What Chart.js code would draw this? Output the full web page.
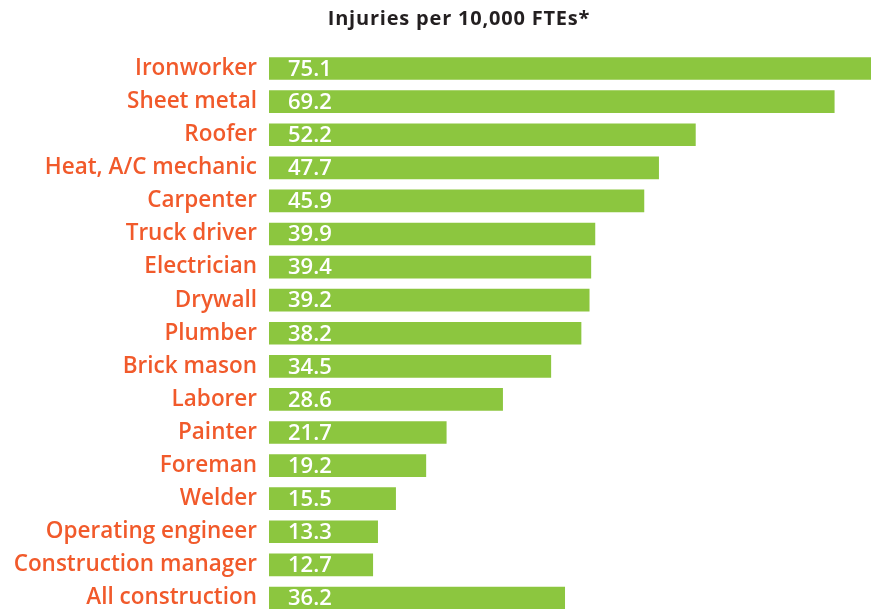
<!DOCTYPE html>
<html>
<head>
<meta charset="utf-8">
<script src="https://cdn.jsdelivr.net/npm/chart.js@4/dist/chart.umd.min.js"></script>
<style>
  html, body { margin: 0; padding: 0; background: #fff; overflow: hidden; }
  #wrap { position: relative; width: 871px; height: 640px; }
</style>
</head>
<body>
<div id="wrap"><canvas id="chartInjuries"></canvas></div>
<script>
// Data
const trades = [
    'Ironworker', 'Sheet metal', 'Roofer', 'Heat, A/C mechanic', 'Carpenter',
    'Truck driver', 'Electrician', 'Drywall', 'Plumber', 'Brick mason',
    'Laborer', 'Painter', 'Foreman', 'Welder', 'Operating engineer',
    'Construction manager', 'All construction'
];
const injuryRates = [75.1, 69.2, 52.2, 47.7, 45.9, 39.9, 39.4, 39.2, 38.2, 34.5,
    28.6, 21.7, 19.2, 15.5, 13.3, 12.7, 36.2];
const chartTitle = 'Injuries per 10,000 FTEs*';

const GREEN = '#8CC63F';
const ORANGE = '#F15A2B';
const FONT = '"Open Sans"';

/**
 * Title drawn by hand so it can sit off-centre like the original
 */
const titlePlugin = {
    id: 'customTitle',
    afterDraw(chart) {
        const ctx = chart.ctx;
        ctx.save();
        ctx.fillStyle = '#231F20';
        ctx.font = 'bold 20px ' + FONT;
        ctx.letterSpacing = '0.8px';
        ctx.textAlign = 'center';
        ctx.textBaseline = 'middle';
        ctx.fillText(chartTitle, 459, 19);
        ctx.restore();
    }
};

/**
 * White value labels inside the bars
 */
const valueLabels = {
    id: 'valueLabels',
    afterDatasetsDraw(chart) {
        const ctx = chart.ctx;
        const meta = chart.getDatasetMeta(0);
        const x0 = chart.scales.x.getPixelForValue(0);
        ctx.save();
        ctx.fillStyle = '#ffffff';
        ctx.font = '600 22px ' + FONT;
        ctx.textAlign = 'left';
        ctx.textBaseline = 'middle';
        meta.data.forEach((bar, i) => {
            ctx.fillText(injuryRates[i].toFixed(1), x0 + 19, bar.y + 1);
        });
        ctx.restore();
    }
};

new Chart(document.getElementById('chartInjuries'), {
    type: 'bar',
    data: {
        labels: trades,
        datasets: [{
            data: injuryRates,
            backgroundColor: GREEN,
            barThickness: 22,
            borderWidth: 0
        }]
    },
    options: {
        indexAxis: 'y',
        responsive: true,
        maintainAspectRatio: false,
        animation: false,
        layout: { padding: { top: 52, right: 0, bottom: 0, left: 0 } },
        plugins: {
            legend: { display: false },
            tooltip: { enabled: false }
        },
        scales: {
            x: {
                display: false,
                min: 0,
                max: 73.7
            },
            y: {
                grid: { display: false, drawTicks: false },
                border: { display: false },
                afterFit(scale) { scale.width = 269; },
                ticks: {
                    color: ORANGE,
                    padding: 12,
                    font: { family: FONT, size: 22.5, weight: '600' }
                }
            }
        }
    },
    plugins: [titlePlugin, valueLabels]
});
</script>
</body>
</html>
